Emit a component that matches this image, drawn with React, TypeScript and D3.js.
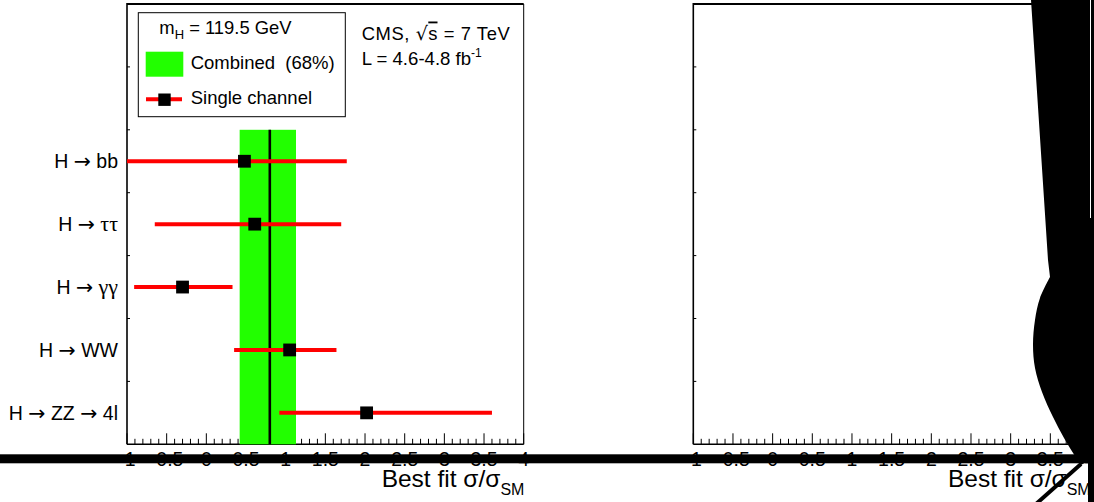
import React from "react";
import * as d3 from "d3";

const W = 1094;
const H = 502;

const channels = ["H → bb", "H → ττ", "H → γγ", "H → WW", "H → ZZ → 4l"];
const bestFit = [0.48, 0.61, -0.3, 1.05, 2.02];
const errLow = [-1.05, -0.65, -0.91, 0.35, 0.92];
const errHigh = [1.77, 1.7, 0.33, 1.64, 3.6];
const combinedBest = 0.8;
const combinedBand = [0.42, 1.13];
const xTickLabels = ["-1", "-0.5", "0", "0.5", "1", "1.5", "2", "2.5", "3", "3.5", "4"];

const FONT = "'Liberation Sans', Arial, Helvetica, sans-serif";
const ARROW_FONT = "'DejaVu Sans', sans-serif";
const GREEK_FONT = "'Liberation Serif', 'DejaVu Serif', serif";

const yScale = d3.scaleLinear().domain([0, 7]).range([444.3, 4]);
const xLeft = d3.scaleLinear().domain([-1, 4]).range([127, 523.7]).clamp(true);
const xRight = d3.scaleLinear().domain([-1, 4]).range([693.3, 1090]);

const minorTicks = d3.range(0, 51).map((i) => ({ v: -1 + i * 0.1, major: i % 5 === 0 }));
const yTicks = d3.range(1, 7);

function RichLabel({ s }: { s: string }) {
  const parts = s.split(/(→|[τγ]+)/).filter((p) => p.length > 0);
  return (
    <>
      {parts.map((p, i) => {
        if (p === "→")
          return (
            <tspan key={i} fontFamily={ARROW_FONT} fontSize={20.5}>
              {p}
            </tspan>
          );
        if (/^[τγ]+$/.test(p))
          return (
            <tspan key={i} fontFamily={GREEK_FONT} fontSize={22}>
              {p}
            </tspan>
          );
        return <tspan key={i}>{p}</tspan>;
      })}
    </>
  );
}

function Panel({ x }: { x: d3.ScaleLinear<number, number> }) {
  const [x0, x1] = x.range();
  const yb = yScale(0);
  const yt = yScale(7);
  return (
    <g>
      <rect x={x0} y={yt} width={x1 - x0} height={yb - yt} fill="white" />
      {minorTicks.map((t, i) => (
        <line key={i} x1={x(t.v)} x2={x(t.v)} y1={yb} y2={yb - (t.major ? 11 : 5.5)} stroke="black" strokeWidth={1} />
      ))}
      {yTicks.map((t) => (
        <line key={t} x1={x0} x2={x0 + 3} y1={yScale(t)} y2={yScale(t)} stroke="black" strokeWidth={1} />
      ))}
      <line x1={x0} x2={x1} y1={yt} y2={yt} stroke="black" strokeWidth={2} />
      <line x1={x0} x2={x0} y1={yt - 1} y2={yb} stroke="black" strokeWidth={1.6} />
      <line x1={x0} x2={x1} y1={yb} y2={yb} stroke="black" strokeWidth={1.6} />
      <line x1={x1} x2={x1} y1={yt} y2={yb} stroke="black" strokeWidth={1} />
      {xTickLabels.map((l, i) => (
        <text key={l} x={x(-1 + i * 0.5)} y={465.5} textAnchor="middle" fontSize={19.5} fontFamily={FONT} fill="black">
          {l}
        </text>
      ))}
      <text x={x1 + 0.7} y={487} textAnchor="end" fontSize={24.5} fontFamily={FONT} fill="black">
        Best fit σ/σ
        <tspan fontSize={16} dy={8}>SM</tspan>
      </text>
    </g>
  );
}

export default function App() {
  const x = xLeft;
  const bulge = [
    [1050, 277],
    [1040, 298],
    [1035, 320],
    [1033, 345],
    [1035, 368],
    [1042, 392],
    [1053, 417],
    [1064, 438],
    [1075, 456],
    [1081, 465],
  ] as [number, number][];
  const bulgePath = (d3.line().curve(d3.curveCatmullRom)(bulge) || "").replace(/^M/, "L");
  const shape = `M1031,0 L1048,260 ${bulgePath} L1088,461 L1088,${H} L${W},${H} L${W},0 Z`;

  return (
    <svg
      width={W}
      height={H}
      style={{ position: "absolute", left: 0, top: 0, background: "white" }}
      fontFamily={FONT}
    >
      <rect x={0} y={0} width={W} height={H} fill="white" />
      <Panel x={xLeft} />
      <Panel x={xRight} />

      {/* combined band */}
      <rect
        x={x(combinedBand[0])}
        y={yScale(5)}
        width={x(combinedBand[1]) - x(combinedBand[0])}
        height={yScale(0) - yScale(5)}
        fill="#22ff00"
      />
      <line x1={x(combinedBest)} x2={x(combinedBest)} y1={yScale(5)} y2={yScale(0)} stroke="black" strokeWidth={2.6} />

      {/* channels */}
      {channels.map((c, i) => {
        const yy = yScale(4.5 - i);
        return (
          <g key={c}>
            <line x1={x(errLow[i])} x2={x(errHigh[i])} y1={yy} y2={yy} stroke="#ff0000" strokeWidth={4} />
            <rect x={x(bestFit[i]) - 6.4} y={yy - 6.4} width={12.8} height={12.8} fill="black" />
            <text x={118} y={yy + 7} textAnchor="end" fontSize={19.5} fill="black" style={{ whiteSpace: "pre" }}>
              <RichLabel s={c} />
            </text>
          </g>
        );
      })}

      {/* legend */}
      <rect x={138.3} y={12.7} width={207} height={104} fill="white" stroke="black" strokeWidth={1} />
      <text x={159.3} y={34} fontSize={18.4} fill="black">
        m<tspan fontSize={13} dy={5}>H</tspan>
        <tspan dy={-5}> = 119.5 GeV</tspan>
      </text>
      <rect x={145.7} y={51.7} width={37.6} height={25} fill="#22ff00" />
      <text x={190.7} y={69} fontSize={18.5} fill="black" style={{ whiteSpace: "pre" }}>
        {"Combined  (68%)"}
      </text>
      <line x1={146} x2={182} y1={99.3} y2={99.3} stroke="#ff0000" strokeWidth={4} />
      <rect x={158.3} y={93.5} width={12.4} height={12.4} fill="black" />
      <text x={190.7} y={104} fontSize={18.5} fill="black">
        Single channel
      </text>

      <text x={361.7} y={39.5} fontSize={18.4} fill="black" style={{ whiteSpace: "pre" }} textLength={148} lengthAdjust="spacing">
        {"CMS, "}
        <tspan fontFamily={ARROW_FONT} fontSize={19}>√</tspan>
        <tspan style={{ textDecoration: "overline" }}>s</tspan>
        {" = 7 TeV"}
      </text>
      <text x={361.7} y={65} fontSize={18.6} fill="black">
        L = 4.6-4.8 fb<tspan fontSize={12} dy={-8}>-1</tspan>
      </text>

      {/* thick horizontal bar */}
      <rect x={0} y={454.3} width={W} height={9} fill="black" />

      {/* black artifact on the right */}
      <path d={shape} fill="black" />
      <line x1={1090.5} x2={1090.5} y1={0} y2={218} stroke="white" strokeWidth={1} />
      <line x1={1081} y1={464} x2={1036} y2={504} stroke="black" strokeWidth={4} />
    </svg>
  );
}
